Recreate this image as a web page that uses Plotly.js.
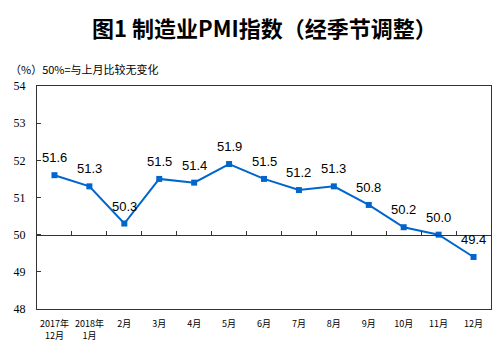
<!DOCTYPE html>
<html><head><meta charset="utf-8">
<script src="https://cdn.plot.ly/plotly-3.0.1.min.js"></script>
<style>html,body{margin:0;padding:0;background:#fff}#c{width:498px;height:356px}</style>
</head><body><div id="c"></div>
<script>
const categories = ["2017年<br>12月","2018年<br>1月","2月","3月","4月","5月","6月","7月","8月","9月","10月","11月","12月"];
const pmi = [51.6,51.3,50.3,51.5,51.4,51.9,51.5,51.2,51.3,50.8,50.2,50.0,49.4];
const labels = ["51.6","51.3","50.3","51.5","51.4","51.9","51.5","51.2","51.3","50.8","50.2","50.0","49.4"];
const yTicks = [48,49,50,51,52,53,54];

const blue = "#0066cc";
const axisColor = "#333333";
const cjk = "'Noto Sans CJK SC', sans-serif";

const trace = {
  x: categories, y: pmi, type: "scatter", mode: "lines+markers",
  line: {color: blue, width: 2},
  marker: {color: blue, size: 6, symbol: "square"},
  hoverinfo: "skip", showlegend: false
};
const tickTrace = {
  x: categories, y: pmi, xaxis: "x2", yaxis: "y", type: "scatter", mode: "none",
  hoverinfo: "skip", showlegend: false
};

const annotations = categories.map((c, i) => ({
  x: c, y: pmi[i], xref: "x", yref: "y", text: labels[i],
  showarrow: false, yanchor: "bottom", yshift: 8,
  font: {family: "'Liberation Sans', Arial, sans-serif", size: 13, color: "#000"}
}));
annotations.push({
  xref: "paper", yref: "paper", x: 0.5, y: 1, yshift: 59, xanchor: "center", yanchor: "middle",
  text: "<b>图1 制造业PMI指数（经季节调整）</b>", showarrow: false,
  font: {family: cjk, size: 22, color: "#000"}
});
annotations.push({
  xref: "paper", yref: "paper", x: 0, xshift: -29, y: 1, yshift: 17, xanchor: "left", yanchor: "middle",
  text: "（%）50%=与上月比较无变化", showarrow: false,
  font: {family: cjk, size: 11, color: "#000"}
});

const layout = {
  width: 498, height: 356,
  margin: {l: 37, r: 7, t: 86, b: 47},
  paper_bgcolor: "#fff", plot_bgcolor: "#fff",
  xaxis: {
    type: "category", categoryarray: categories, range: [-0.5, 12.5],
    showgrid: false, zeroline: false, showline: true, linecolor: axisColor, linewidth: 1, mirror: true,
    ticks: "", tickfont: {family: cjk, size: 9, color: "#000"}, ticklabelstandoff: 6, fixedrange: true
  },
  xaxis2: {
    type: "category", categoryarray: categories, range: [-0.5, 12.5], overlaying: "x",
    anchor: "free", position: (50 - 48) / 6, side: "bottom",
    showgrid: false, zeroline: false, showline: true, linecolor: axisColor, linewidth: 1,
    ticks: "inside", ticklen: 4, tickcolor: axisColor, tickson: "boundaries",
    showticklabels: false, fixedrange: true
  },
  yaxis: {
    range: [48, 54], tickvals: yTicks, ticktext: yTicks.map(String),
    showgrid: false, zeroline: false, showline: true, linecolor: axisColor, linewidth: 1, mirror: true,
    ticks: "inside", ticklen: 4, tickcolor: axisColor,
    tickfont: {family: "'Liberation Serif', serif", size: 12, color: "#000"},
    ticklabelstandoff: 8, fixedrange: true
  },
  annotations: annotations
};
Plotly.newPlot("c", [trace, tickTrace], layout, {staticPlot: true, displayModeBar: false});
</script></body></html>
